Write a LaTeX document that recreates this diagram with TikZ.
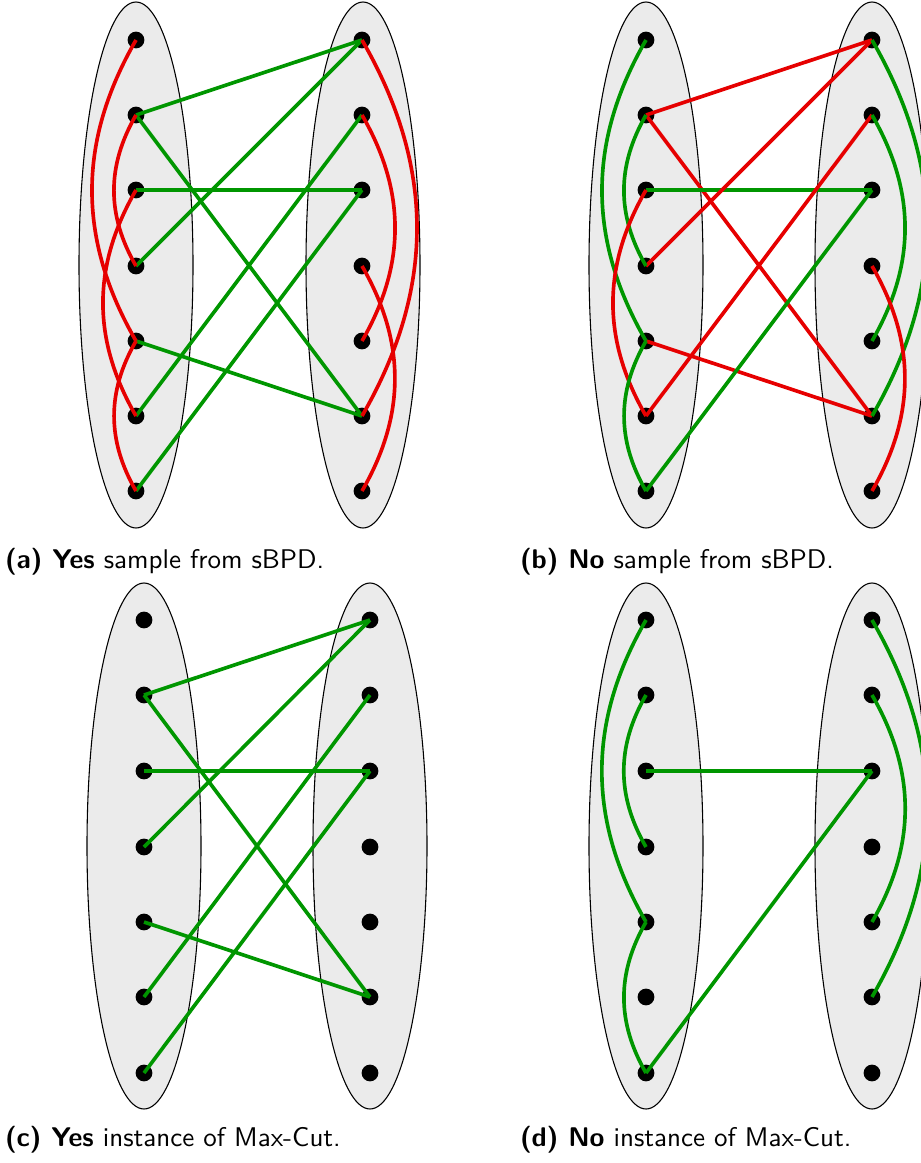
\documentclass[tikz,border=0pt]{standalone}
\usepackage{tikz}

\definecolor{cutgreen}{RGB}{0,150,0}
\definecolor{cutred}{RGB}{230,0,0}

\tikzset{every picture/.style={line width=0.75pt}}
\tikzset{
  vtx/.style={circle, fill=black, inner sep=0pt, minimum size=6.2pt},
  side/.style={draw=black, fill=black!8, line width=0.4pt},
  gedge/.style={color=cutgreen, line width=1.35pt},
  redge/.style={color=cutred, line width=1.35pt},
  capt/.style={anchor=west, inner sep=0.75pt, font=\sffamily}
}

\begin{document}
\begin{tikzpicture}[x=0.37pt,y=0.37pt,yscale=-1,xscale=1]
%set diagram left start at 0, and has height of 1163
\useasboundingbox (0,0) rectangle (921,1163);

%Shape: Ellipse (a)
\draw [side] (136,265) ellipse (57 and 263);
\draw [side] (363,265) ellipse (57 and 263);
%Shape: Ellipse (b)
\draw [side] (646,265) ellipse (57 and 263);
\draw [side] (872,265) ellipse (57 and 263);
%Shape: Ellipse (c)
\draw [side] (144,846) ellipse (57 and 263);
\draw [side] (370,846) ellipse (57 and 263);
%Shape: Ellipse (d)
\draw [side] (646,846) ellipse (57 and 263);
\draw [side] (872,846) ellipse (57 and 263);

%Vertices (a)
\node [vtx] (aL1) at (136,40) {};  \node [vtx] (aR1) at (362,40) {};
\node [vtx] (aL2) at (136,115) {}; \node [vtx] (aR2) at (362,115) {};
\node [vtx] (aL3) at (136,190) {}; \node [vtx] (aR3) at (362,190) {};
\node [vtx] (aL4) at (136,266) {}; \node [vtx] (aR4) at (362,266) {};
\node [vtx] (aL5) at (136,341) {}; \node [vtx] (aR5) at (362,341) {};
\node [vtx] (aL6) at (136,416) {}; \node [vtx] (aR6) at (362,416) {};
\node [vtx] (aL7) at (136,491) {}; \node [vtx] (aR7) at (362,491) {};
%Vertices (b)
\node [vtx] (bL1) at (646,40) {};  \node [vtx] (bR1) at (872,40) {};
\node [vtx] (bL2) at (646,115) {}; \node [vtx] (bR2) at (872,115) {};
\node [vtx] (bL3) at (646,190) {}; \node [vtx] (bR3) at (872,190) {};
\node [vtx] (bL4) at (646,266) {}; \node [vtx] (bR4) at (872,266) {};
\node [vtx] (bL5) at (646,341) {}; \node [vtx] (bR5) at (872,341) {};
\node [vtx] (bL6) at (646,416) {}; \node [vtx] (bR6) at (872,416) {};
\node [vtx] (bL7) at (646,491) {}; \node [vtx] (bR7) at (872,491) {};
%Vertices (c)
\node [vtx] (cL1) at (144,620) {};  \node [vtx] (cR1) at (370,620) {};
\node [vtx] (cL2) at (144,695) {};  \node [vtx] (cR2) at (370,695) {};
\node [vtx] (cL3) at (144,771) {};  \node [vtx] (cR3) at (370,771) {};
\node [vtx] (cL4) at (144,847) {};  \node [vtx] (cR4) at (370,847) {};
\node [vtx] (cL5) at (144,922) {};  \node [vtx] (cR5) at (370,922) {};
\node [vtx] (cL6) at (144,997) {};  \node [vtx] (cR6) at (370,997) {};
\node [vtx] (cL7) at (144,1073) {}; \node [vtx] (cR7) at (370,1073) {};
%Vertices (d)
\node [vtx] (dL1) at (646,620) {};  \node [vtx] (dR1) at (872,620) {};
\node [vtx] (dL2) at (646,695) {};  \node [vtx] (dR2) at (872,695) {};
\node [vtx] (dL3) at (646,771) {};  \node [vtx] (dR3) at (872,771) {};
\node [vtx] (dL4) at (646,847) {};  \node [vtx] (dR4) at (872,847) {};
\node [vtx] (dL5) at (646,922) {};  \node [vtx] (dR5) at (872,922) {};
\node [vtx] (dL6) at (646,997) {};  \node [vtx] (dR6) at (872,997) {};
\node [vtx] (dL7) at (646,1073) {}; \node [vtx] (dR7) at (872,1073) {};

%Straight Lines (a)
\draw [gedge] (aL2.center) -- (aR1.center);
\draw [gedge] (aL2.center) -- (aR6.center);
\draw [gedge] (aL3.center) -- (aR3.center);
\draw [gedge] (aL4.center) -- (aR1.center);
\draw [gedge] (aL5.center) -- (aR6.center);
\draw [gedge] (aL6.center) -- (aR2.center);
\draw [gedge] (aL7.center) -- (aR3.center);
%Curve Lines (a)
\draw [redge] (aL1.center) to [bend left=30] (aL5.center);
\draw [redge] (aL2.center) to [bend left=30] (aL4.center);
\draw [redge] (aL3.center) to [bend left=30] (aL6.center);
\draw [redge] (aL5.center) to [bend left=30] (aL7.center);
\draw [redge] (aR1.center) to [bend right=30] (aR6.center);
\draw [redge] (aR2.center) to [bend right=30] (aR5.center);
\draw [redge] (aR4.center) to [bend right=30] (aR7.center);

%Straight Lines (b)
\draw [redge] (bL2.center) -- (bR1.center);
\draw [redge] (bL2.center) -- (bR6.center);
\draw [gedge] (bL3.center) -- (bR3.center);
\draw [redge] (bL4.center) -- (bR1.center);
\draw [redge] (bL5.center) -- (bR6.center);
\draw [redge] (bL6.center) -- (bR2.center);
\draw [gedge] (bL7.center) -- (bR3.center);
%Curve Lines (b)
\draw [gedge] (bL1.center) to [bend left=30] (bL5.center);
\draw [gedge] (bL2.center) to [bend left=30] (bL4.center);
\draw [redge] (bL3.center) to [bend left=30] (bL6.center);
\draw [gedge] (bL5.center) to [bend left=30] (bL7.center);
\draw [gedge] (bR1.center) to [bend right=30] (bR6.center);
\draw [gedge] (bR2.center) to [bend right=30] (bR5.center);
\draw [redge] (bR4.center) to [bend right=30] (bR7.center);

%Straight Lines (c)
\draw [gedge] (cL2.center) -- (cR1.center);
\draw [gedge] (cL2.center) -- (cR6.center);
\draw [gedge] (cL3.center) -- (cR3.center);
\draw [gedge] (cL4.center) -- (cR1.center);
\draw [gedge] (cL5.center) -- (cR6.center);
\draw [gedge] (cL6.center) -- (cR2.center);
\draw [gedge] (cL7.center) -- (cR3.center);

%Straight Lines (d)
\draw [gedge] (dL3.center) -- (dR3.center);
\draw [gedge] (dL7.center) -- (dR3.center);
%Curve Lines (d)
\draw [gedge] (dL1.center) to [bend left=30] (dL5.center);
\draw [gedge] (dL2.center) to [bend left=30] (dL4.center);
\draw [gedge] (dL5.center) to [bend left=30] (dL7.center);
\draw [gedge] (dR1.center) to [bend right=30] (dR6.center);
\draw [gedge] (dR2.center) to [bend right=30] (dR5.center);

%Captions
\node [capt] (capa) at (2,562) {\textbf{(a) Yes} sample from sBPD.};
\node [capt] (capb) at (517,562) {\textbf{(b) No} sample from sBPD.};
\node [capt] (capc) at (2,1140) {\textbf{(c) Yes} instance of Max-Cut.};
\node [capt] (capd) at (517,1140) {\textbf{(d) No} instance of Max-Cut.};

\end{tikzpicture}
\end{document}
